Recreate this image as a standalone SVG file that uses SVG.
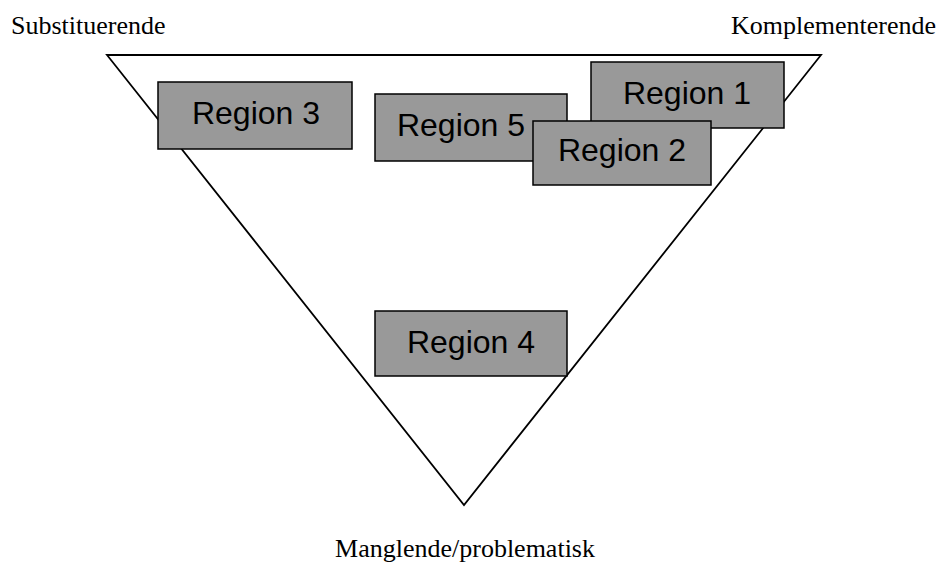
<svg xmlns="http://www.w3.org/2000/svg" width="943" height="565" viewBox="0 0 943 565">
<style>
.box rect{fill:#999999;stroke:#000;stroke-width:1.5}
.box text{font-family:"Liberation Sans",Arial,sans-serif;font-size:32px;fill:#000;text-anchor:middle}
.lbl{font-family:"Liberation Serif","Times New Roman",serif;font-size:26px;fill:#000}
</style>
<rect width="943" height="565" fill="#fff"/>
<g id="triangle"><polygon points="107,55 821,55 464,505" fill="none" stroke="#000" stroke-width="1.8"/></g>
<g id="region3" class="box"><rect x="158" y="82" width="194" height="67"/><text x="256" y="124">Region 3</text></g>
<g id="region5" class="box"><rect x="375" y="94" width="192" height="67"/><text x="461" y="136">Region 5</text></g>
<g id="region1" class="box"><rect x="591" y="62" width="193" height="66"/><text x="687" y="104">Region 1</text></g>
<g id="region2" class="box"><rect x="533" y="121" width="178" height="64"/><text x="622" y="161">Region 2</text></g>
<g id="region4" class="box"><rect x="375" y="311" width="192" height="65"/><text x="471" y="353">Region 4</text></g>
<g id="connectors"></g>
<text class="lbl" x="11" y="34">Substituerende</text>
<text class="lbl" x="936" y="34" text-anchor="end">Komplementerende</text>
<text class="lbl" x="465" y="557" text-anchor="middle">Manglende/problematisk</text>
</svg>
